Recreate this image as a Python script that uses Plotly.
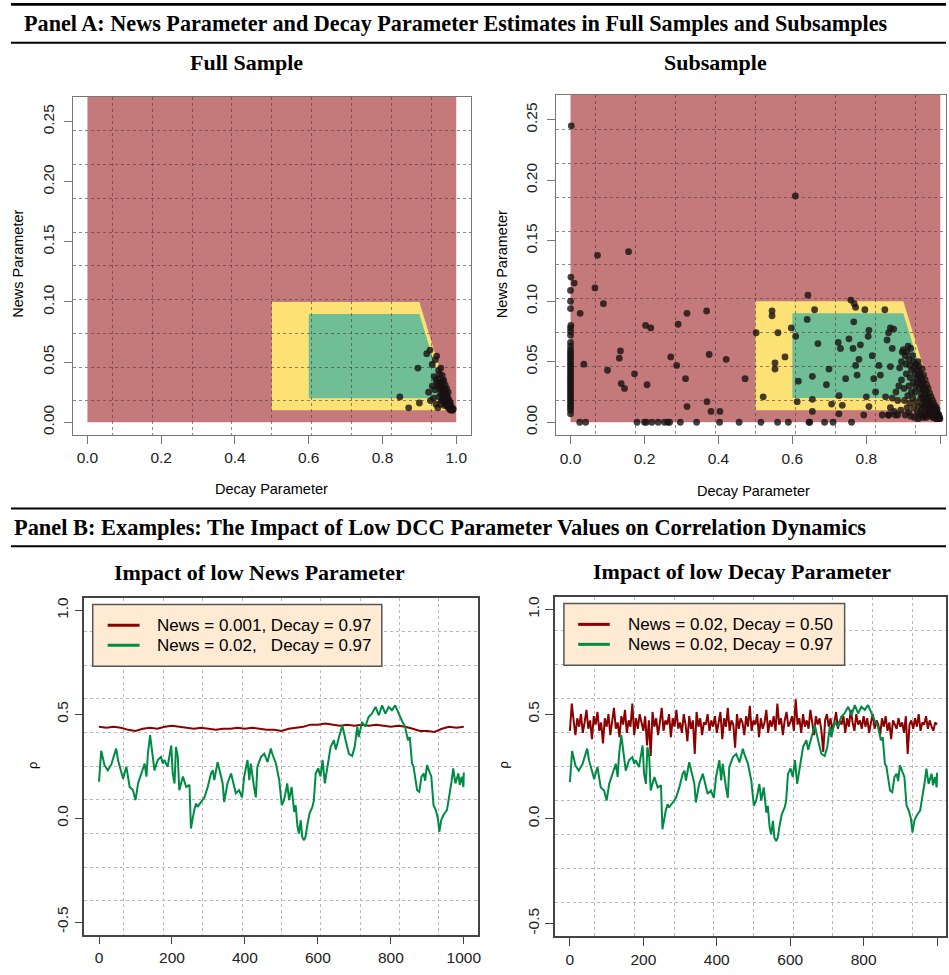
import plotly.graph_objects as go

W, H = 949, 975

# ---------------- Panel A data: (decay, news) estimates ----------------
full_decay = [0.847, 0.871, 0.900, 0.896, 0.925, 0.920, 0.929, 0.943, 0.952, 0.935,
              0.940, 0.945, 0.948, 0.950, 0.952, 0.955, 0.957, 0.958, 0.960, 0.961,
              0.962, 0.963, 0.964, 0.965, 0.966, 0.967, 0.968, 0.969, 0.970, 0.971,
              0.972, 0.973, 0.974, 0.975, 0.976, 0.977, 0.978, 0.979, 0.980, 0.981,
              0.982, 0.983, 0.984, 0.985, 0.986, 0.987, 0.988, 0.990, 0.992, 0.945,
              0.950, 0.938, 0.930, 0.955, 0.958, 0.947, 0.935, 0.960, 0.953, 0.962,
              0.966, 0.970, 0.974, 0.978, 0.968, 0.957, 0.942]
full_news = [0.021, 0.012, 0.016, 0.045, 0.025, 0.057, 0.060, 0.052, 0.043, 0.048,
             0.038, 0.035, 0.032, 0.030, 0.036, 0.028, 0.033, 0.025, 0.030, 0.022,
             0.027, 0.034, 0.020, 0.025, 0.029, 0.018, 0.023, 0.027, 0.016, 0.021,
             0.024, 0.015, 0.019, 0.022, 0.013, 0.017, 0.020, 0.012, 0.015, 0.018,
             0.011, 0.014, 0.016, 0.010, 0.013, 0.011, 0.012, 0.010, 0.011, 0.015,
             0.012, 0.020, 0.018, 0.040, 0.045, 0.055, 0.030, 0.018, 0.021, 0.039,
             0.035, 0.031, 0.028, 0.025, 0.014, 0.015, 0.027]

# subsample: estimates stuck at decay = 0
sub_edge_decay = [0.002, 0.001, 0.0, 0.0, 0.0, 0.001, 0.0, 0.0, 0.0, 0.0,
                  0.0, 0.0, 0.0, 0.0, 0.0, 0.0, 0.0, 0.0, 0.0, 0.0,
                  0.0, 0.0, 0.0, 0.0, 0.0, 0.0, 0.0, 0.0, 0.0, 0.0,
                  0.0, 0.0, 0.0, 0.0, 0.0, 0.0, 0.0, 0.0]
sub_edge_news = [0.245, 0.120, 0.109, 0.100, 0.094, 0.080, 0.078, 0.075, 0.072, 0.066,
                 0.063, 0.060, 0.058, 0.056, 0.054, 0.052, 0.050, 0.048, 0.046, 0.044,
                 0.042, 0.040, 0.038, 0.036, 0.034, 0.032, 0.030, 0.028, 0.026, 0.024,
                 0.022, 0.020, 0.018, 0.016, 0.014, 0.012, 0.010, 0.007]

# subsample: estimates stuck at news = 0
sub_floor_decay = [0.025, 0.041, 0.180, 0.200, 0.205, 0.220, 0.237, 0.254, 0.263, 0.268,
                   0.297, 0.341, 0.403, 0.456, 0.515, 0.560, 0.589, 0.645, 0.647, 0.687,
                   0.710, 0.760]
sub_floor_news = [0.0, 0.0, 0.0, 0.0, 0.0, 0.0, 0.0, 0.0, 0.0, 0.0,
                  0.0, 0.0, 0.0, 0.0, 0.0, 0.0, 0.0, 0.0, 0.0, 0.0,
                  0.0, 0.0]

# subsample: interior estimates
sub_mid_decay = [0.010, 0.026, 0.036, 0.066, 0.073, 0.089, 0.100, 0.132, 0.135, 0.137,
                 0.146, 0.157, 0.173, 0.203, 0.207, 0.217, 0.271, 0.287, 0.291, 0.311,
                 0.315, 0.315, 0.368, 0.369, 0.375, 0.380, 0.404, 0.421, 0.472, 0.502,
                 0.521, 0.545, 0.545, 0.553, 0.553, 0.561, 0.580, 0.597, 0.608, 0.609,
                 0.613, 0.616, 0.640, 0.642, 0.654, 0.654, 0.654, 0.660, 0.669, 0.692,
                 0.699, 0.706, 0.724, 0.726, 0.726, 0.730, 0.735, 0.744, 0.753, 0.758,
                 0.764, 0.766, 0.767, 0.771, 0.771, 0.775, 0.780, 0.784, 0.793, 0.796,
                 0.800, 0.805, 0.807, 0.807, 0.816, 0.820, 0.825, 0.834, 0.838, 0.843,
                 0.850, 0.852, 0.856, 0.860, 0.860, 0.865, 0.865, 0.870, 0.874, 0.878]
sub_mid_news = [0.115, 0.090, 0.048, 0.111, 0.138, 0.098, 0.043, 0.053, 0.059, 0.032,
                0.028, 0.141, 0.040, 0.080, 0.031, 0.078, 0.054, 0.047, 0.081, 0.036,
                0.090, 0.013, 0.092, 0.017, 0.056, 0.009, 0.009, 0.052, 0.036, 0.074,
                0.021, 0.092, 0.088, 0.049, 0.044, 0.074, 0.054, 0.078, 0.187, 0.071,
                0.017, 0.034, 0.085, 0.105, 0.038, 0.019, 0.009, 0.093, 0.065, 0.031,
                0.044, 0.015, 0.066, 0.022, 0.007, 0.061, 0.014, 0.036, 0.069, 0.101,
                0.061, 0.083, 0.098, 0.095, 0.047, 0.039, 0.052, 0.064, 0.006, 0.093,
                0.021, 0.071, 0.076, 0.013, 0.055, 0.036, 0.025, 0.047, 0.039, 0.006,
                0.093, 0.021, 0.068, 0.074, 0.006, 0.078, 0.046, 0.061, 0.077, 0.006]

# subsample: dense cluster near decay = 1
sub_cluster_decay = [0.900, 0.905, 0.910, 0.915, 0.920, 0.918, 0.925, 0.922, 0.928, 0.930,
                     0.932, 0.935, 0.936, 0.938, 0.940, 0.941, 0.943, 0.944, 0.945, 0.946,
                     0.948, 0.949, 0.950, 0.951, 0.952, 0.953, 0.954, 0.955, 0.956, 0.957,
                     0.958, 0.959, 0.960, 0.961, 0.962, 0.963, 0.964, 0.965, 0.966, 0.967,
                     0.968, 0.969, 0.970, 0.971, 0.972, 0.973, 0.974, 0.975, 0.976, 0.977,
                     0.978, 0.979, 0.980, 0.981, 0.982, 0.983, 0.984, 0.985, 0.986, 0.987,
                     0.988, 0.989, 0.990, 0.991, 0.992, 0.993, 0.994, 0.995, 0.996, 0.997,
                     0.998, 0.999, 0.895, 0.902, 0.908, 0.912, 0.915, 0.903, 0.910, 0.918,
                     0.925, 0.928, 0.932, 0.935, 0.938, 0.942, 0.945, 0.948, 0.950, 0.952,
                     0.955, 0.958, 0.962, 0.880, 0.885, 0.890, 0.895, 0.888, 0.870, 0.865,
                     0.875, 0.885, 0.860, 0.893, 0.905, 0.915, 0.920, 0.930, 0.940, 0.927,
                     0.918, 0.907, 0.913, 0.897, 0.922, 0.933, 0.947, 0.957, 0.966, 0.940]
sub_cluster_news = [0.060, 0.055, 0.058, 0.052, 0.061, 0.047, 0.055, 0.043, 0.050, 0.045,
                    0.040, 0.048, 0.036, 0.043, 0.032, 0.039, 0.046, 0.028, 0.035, 0.041,
                    0.024, 0.031, 0.037, 0.044, 0.020, 0.027, 0.033, 0.039, 0.017, 0.023,
                    0.029, 0.035, 0.014, 0.020, 0.026, 0.031, 0.011, 0.017, 0.022, 0.028,
                    0.008, 0.014, 0.019, 0.024, 0.006, 0.011, 0.016, 0.021, 0.005, 0.009,
                    0.013, 0.018, 0.004, 0.008, 0.011, 0.015, 0.004, 0.007, 0.010, 0.013,
                    0.003, 0.006, 0.009, 0.011, 0.003, 0.005, 0.007, 0.004, 0.006, 0.003,
                    0.004, 0.003, 0.035, 0.028, 0.040, 0.022, 0.030, 0.018, 0.012, 0.016,
                    0.020, 0.012, 0.025, 0.017, 0.008, 0.013, 0.006, 0.010, 0.015, 0.004,
                    0.008, 0.005, 0.004, 0.025, 0.018, 0.045, 0.050, 0.030, 0.020, 0.012,
                    0.009, 0.006, 0.006, 0.010, 0.006, 0.008, 0.005, 0.004, 0.003, 0.033,
                    0.037, 0.048, 0.063, 0.058, 0.025, 0.030, 0.020, 0.012, 0.007, 0.050]

# parameter regions (decay, news)
outer_region_decay = [0.0, 1.0]
yellow_region_decay = [0.5, 0.5, 0.9, 0.99]
yellow_region_news = [0.01, 0.10, 0.10, 0.01]
green_region_decay = [0.6, 0.6, 0.9, 0.97]
green_region_news = [0.02, 0.09, 0.09, 0.02]

# ---------------- Panel B data: simulated correlation paths ----------------
# News = 0.02, Decay = 0.97
green_t = [0, 6, 15, 24, 34, 43, 47, 52, 61, 66,
           75, 84, 93, 100, 107, 116, 125, 130, 134, 140,
           148, 152, 161, 170, 175, 179, 188, 198, 202, 207,
           211, 216, 220, 230, 239, 248, 252, 257, 261, 266,
           270, 280, 289, 298, 307, 312, 316, 325, 332, 339,
           343, 352, 362, 366, 375, 384, 392, 398, 407, 412,
           416, 425, 430, 434, 444, 453, 462, 471, 475, 485,
           494, 501, 507, 511, 516, 521, 528, 535, 539, 544,
           548, 553, 557, 562, 566, 571, 577, 585, 589, 594,
           601, 607, 613, 619, 626, 630, 635, 644, 649, 658,
           667, 676, 685, 694, 701, 708, 712, 721, 730, 739,
           748, 758, 767, 776, 785, 794, 803, 812, 821, 830,
           839, 847, 852, 858, 862, 867, 872, 878, 884, 890,
           894, 899, 904, 911, 917, 923, 929, 933, 938, 944,
           954, 960, 967, 971, 977, 985, 989, 994, 999, 1000]
green_rho = [0.175, 0.324, 0.255, 0.23, 0.26, 0.31, 0.335, 0.28, 0.215, 0.19,
             0.247, 0.15, 0.135, 0.087, 0.167, 0.215, 0.263, 0.2, 0.31, 0.40,
             0.295, 0.23, 0.28, 0.295, 0.263, 0.28, 0.247, 0.35, 0.215, 0.167,
             0.343, 0.295, 0.135, 0.2, 0.15, 0.16, -0.05, 0.006, 0.04, 0.07,
             0.054, 0.078, 0.1, 0.15, 0.215, 0.23, 0.183, 0.27, 0.215, 0.167,
             0.078, 0.167, 0.215, 0.183, 0.12, 0.135, 0.1, 0.2, 0.28, 0.183,
             0.263, 0.15, 0.1, 0.247, 0.295, 0.31, 0.27, 0.335, 0.31, 0.263,
             0.183, 0.0625, 0.087, 0.12, 0.167, 0.087, 0.15, 0.03, 0.062, -0.04,
             -0.074, -0.01, -0.09, -0.106, -0.09, -0.034, 0.022, 0.054, 0.087, 0.215,
             0.24, 0.2, 0.28, 0.167, 0.247, 0.295, 0.343, 0.375, 0.33, 0.39,
             0.447, 0.375, 0.31, 0.3, 0.343, 0.44, 0.39, 0.463, 0.44, 0.487,
             0.503, 0.535, 0.495, 0.543, 0.503, 0.535, 0.52, 0.543, 0.503, 0.47,
             0.44, 0.375, 0.39, 0.263, 0.25, 0.183, 0.135, 0.127, 0.2, 0.215,
             0.18, 0.255, 0.23, 0.2, 0.0625, 0.04, 0.0, -0.066, -0.01, 0.014,
             0.04, 0.1, 0.183, 0.24, 0.167, 0.215, 0.16, 0.2, 0.15, 0.22]

# News = 0.001, Decay = 0.97
lownews_t = [0, 20, 40, 60, 80, 100, 120, 140, 160, 180,
             200, 220, 240, 260, 280, 300, 320, 340, 360, 380,
             400, 420, 440, 460, 480, 500, 520, 540, 560, 580,
             600, 620, 640, 660, 680, 700, 720, 740, 760, 780,
             800, 820, 840, 860, 880, 900, 920, 940, 960, 980, 1000]
lownews_rho = [0.44, 0.435, 0.44, 0.435, 0.425, 0.42, 0.43, 0.435, 0.43, 0.44,
               0.445, 0.44, 0.435, 0.43, 0.435, 0.43, 0.425, 0.43, 0.43, 0.435,
               0.43, 0.435, 0.43, 0.425, 0.425, 0.42, 0.43, 0.435, 0.44, 0.45,
               0.45, 0.455, 0.45, 0.445, 0.45, 0.445, 0.45, 0.445, 0.45, 0.445,
               0.44, 0.445, 0.44, 0.43, 0.42, 0.42, 0.415, 0.43, 0.44, 0.435, 0.44]

# News = 0.02, Decay = 0.50 (every 5th step)
lowdecay_t = list(range(0, 1001, 5))
lowdecay_rho = [0.42, 0.55, 0.47, 0.40, 0.48, 0.44, 0.50, 0.41, 0.46, 0.52,
                0.43, 0.47, 0.38, 0.49, 0.45, 0.51, 0.42, 0.46, 0.36, 0.48,
                0.44, 0.50, 0.40, 0.47, 0.53, 0.43, 0.46, 0.39, 0.49, 0.45,
                0.52, 0.41, 0.47, 0.44, 0.55, 0.40, 0.48, 0.43, 0.50, 0.46,
                0.42, 0.49, 0.35, 0.47, 0.30, 0.51, 0.44, 0.48, 0.40, 0.46,
                0.53, 0.42, 0.47, 0.45, 0.50, 0.39, 0.48, 0.44, 0.52, 0.43,
                0.46, 0.41, 0.50, 0.45, 0.37, 0.49, 0.43, 0.47, 0.31, 0.51,
                0.44, 0.48, 0.40, 0.46, 0.45, 0.50, 0.42, 0.47, 0.44, 0.49,
                0.41, 0.46, 0.51, 0.38, 0.48, 0.44, 0.53, 0.42, 0.47, 0.45,
                0.34, 0.50, 0.43, 0.48, 0.46, 0.40, 0.49, 0.44, 0.54, 0.42,
                0.47, 0.45, 0.50, 0.39, 0.48, 0.43, 0.46, 0.52, 0.41, 0.47,
                0.44, 0.49, 0.42, 0.55, 0.45, 0.48, 0.40, 0.47, 0.51, 0.44,
                0.46, 0.49, 0.42, 0.57, 0.45, 0.48, 0.41, 0.50, 0.44, 0.47,
                0.43, 0.52, 0.46, 0.40, 0.49, 0.45, 0.48, 0.42, 0.32, 0.47,
                0.50, 0.44, 0.48, 0.42, 0.46, 0.51, 0.43, 0.47, 0.45, 0.49,
                0.41, 0.48, 0.44, 0.52, 0.46, 0.42, 0.50, 0.45, 0.47, 0.43,
                0.49, 0.44, 0.48, 0.41, 0.46, 0.50, 0.43, 0.47, 0.45, 0.40,
                0.48, 0.44, 0.49, 0.42, 0.46, 0.38, 0.47, 0.45, 0.43, 0.48,
                0.44, 0.46, 0.41, 0.49, 0.31, 0.45, 0.47, 0.43, 0.48, 0.44,
                0.50, 0.42, 0.46, 0.45, 0.49, 0.43, 0.47, 0.44, 0.42, 0.46,
                0.45]

# tick labels
a_xticks = [0.0, 0.2, 0.4, 0.6, 0.8, 1.0]
a_xtext = ["0.0", "0.2", "0.4", "0.6", "0.8", "1.0"]
a_yticks = [0.0, 0.05, 0.10, 0.15, 0.20, 0.25]
a_ytext = ["0.00", "0.05", "0.10", "0.15", "0.20", "0.25"]
b_xticks = [0, 200, 400, 600, 800, 1000]
b_xtext = ["0", "200", "400", "600", "800", "1000"]
b_yticks = [-0.5, 0.0, 0.5, 1.0]
b_ytext = ["-0.5", "0.0", "0.5", "1.0"]

# ---------------- styling ----------------
SANS = "Liberation Sans, Arial, sans-serif"
SERIF = "Liberation Serif, Times New Roman, serif"
RED_ZONE = "rgb(196,122,122)"
YELLOW_ZONE = "rgb(252,226,116)"
GREEN_ZONE = "rgb(112,190,150)"
DARKRED = "#8B0000"
DARKGREEN = "#008B45"
DOT = "rgba(25,18,18,0.8)"


def px(x):
    return x / W


def py(y):
    return 1 - y / H


def r_grid(lo, hi, n=10):
    step = (hi - lo) / n
    return [lo + step * k for k in range(1, n)]


def make_axes(xdom, ydom, xr, yr, xt, xtt, yt, ytt, gx, gy, gcol, lcol, lw,
              xstand, ystand):
    common = dict(showgrid=False, zeroline=False, showline=True, mirror=True,
                  linecolor=lcol, linewidth=lw, ticks="outside", ticklen=8,
                  tickcolor=lcol, tickwidth=1.2, tickmode="array",
                  tickfont=dict(family=SANS, size=15.5, color="#222"))
    xa = dict(common, domain=[px(xdom[0]), px(xdom[1])], range=xr,
              tickvals=xt, ticktext=xtt, ticklabelstandoff=xstand,
              minor=dict(tickvals=gx, showgrid=True, griddash="dot",
                         gridcolor=gcol, gridwidth=1, ticks=""))
    ya = dict(common, domain=[py(ydom[1]), py(ydom[0])], range=yr,
              tickvals=yt, ticktext=ytt, tickangle=-90, ticklabelstandoff=ystand,
              minor=dict(tickvals=gy, showgrid=True, griddash="dot",
                         gridcolor=gcol, gridwidth=1, ticks=""))
    return xa, ya


fig = go.Figure()

a_xr = [-0.04, 1.04]
a_yr = [-0.0104, 0.2704]
b_xr = [-40, 1040]
b_yr = [-0.56, 1.06]
a_gx, a_gy = r_grid(*a_xr), r_grid(*a_yr)
b_gx, b_gy = r_grid(*b_xr), r_grid(*b_yr)
a_gcol = "rgba(80,55,55,0.6)"
b_gcol = "rgb(185,185,185)"

x1, y1 = make_axes((72.9, 472.5), (96.1, 434.2), a_xr, a_yr, a_xticks, a_xtext,
                   a_yticks, a_ytext, a_gx, a_gy, a_gcol, "#777", 1.2, 1, 3)
x2, y2 = make_axes((557.5, 949), (94.2, 434.3), [-0.04, 1.0154], a_yr, a_xticks, a_xtext,
                   a_yticks, a_ytext, a_gx, a_gy, a_gcol, "#777", 1.2, 1, 3)
x3, y3 = make_axes((84.7, 479.9), (597.5, 934.5), b_xr, b_yr, b_xticks, b_xtext,
                   b_yticks, b_ytext, b_gx, b_gy, b_gcol, "#444", 1.6, 0, 0)
x4, y4 = make_axes((557.0, 949), (596.4, 936.1), [-40, 1024.4], b_yr, b_xticks, b_xtext,
                   b_yticks, b_ytext, b_gx, b_gy, b_gcol, "#444", 1.6, 0, 0)

# ---- Panel A scatter ----
mk = dict(size=6.8, color=DOT, line=dict(width=0))
fig.add_trace(go.Scatter(x=full_decay, y=full_news, mode="markers", marker=mk,
                         xaxis="x", yaxis="y", showlegend=False))
for dx, dy in [(sub_edge_decay, sub_edge_news), (sub_floor_decay, sub_floor_news),
               (sub_mid_decay, sub_mid_news), (sub_cluster_decay, sub_cluster_news)]:
    fig.add_trace(go.Scatter(x=dx, y=dy, mode="markers", marker=mk,
                             xaxis="x2", yaxis="y2", showlegend=False))

# ---- Panel B lines ----
fig.add_trace(go.Scatter(x=lownews_t, y=lownews_rho, mode="lines",
                         line=dict(color=DARKRED, width=2), xaxis="x3", yaxis="y3",
                         showlegend=False))
fig.add_trace(go.Scatter(x=green_t, y=green_rho, mode="lines",
                         line=dict(color=DARKGREEN, width=2), xaxis="x3", yaxis="y3",
                         showlegend=False))
fig.add_trace(go.Scatter(x=lowdecay_t, y=lowdecay_rho, mode="lines",
                         line=dict(color=DARKRED, width=2), xaxis="x4", yaxis="y4",
                         showlegend=False))
fig.add_trace(go.Scatter(x=green_t, y=green_rho, mode="lines",
                         line=dict(color=DARKGREEN, width=2), xaxis="x4", yaxis="y4",
                         showlegend=False))


def poly_path(xs, ys):
    pts = " L ".join(f"{a},{b}" for a, b in zip(xs, ys))
    return f"M {pts} Z"


shapes = []
for xr_, yr_ in [("x", "y"), ("x2", "y2")]:
    shapes.append(dict(type="rect", xref=xr_, yref=yr_, layer="below",
                       x0=outer_region_decay[0], x1=outer_region_decay[1],
                       y0=0, y1=a_yr[1], fillcolor=RED_ZONE, line=dict(width=0)))
    shapes.append(dict(type="path", xref=xr_, yref=yr_, layer="below",
                       path=poly_path(yellow_region_decay, yellow_region_news),
                       fillcolor=YELLOW_ZONE, line=dict(width=0)))
    shapes.append(dict(type="path", xref=xr_, yref=yr_, layer="below",
                       path=poly_path(green_region_decay, green_region_news),
                       fillcolor=GREEN_ZONE, line=dict(width=0)))

# header rules
for yy, lw in [(3.3, 2.8), (41.7, 2.0), (508, 2.0), (545.7, 2.0)]:
    shapes.append(dict(type="line", xref="paper", yref="paper",
                       x0=px(11), x1=1.0, y0=py(yy), y1=py(yy),
                       line=dict(color="black", width=lw)))

# legend boxes for panel B
legends = [
    dict(box=(93, 604, 383, 666), line_x=(108, 140), text_x=155,
         labels=["News = 0.001, Decay = 0.97",
                 "News = 0.02,\u00a0\u00a0\u00a0Decay = 0.97"]),
    dict(box=(565.7, 603, 847.3, 665), line_x=(580, 611.7), text_x=627.7,
         labels=["News = 0.02, Decay = 0.50", "News = 0.02, Decay = 0.97"]),
]
annotations = []
for lg in legends:
    bx0, by0, bx1, by1 = lg["box"]
    shapes.append(dict(type="rect", xref="paper", yref="paper",
                       x0=px(bx0), x1=px(bx1), y0=py(by1), y1=py(by0),
                       fillcolor="rgb(255,235,212)", line=dict(color="#555", width=1.5)))
    for i, (col, lab) in enumerate(zip([DARKRED, DARKGREEN], lg["labels"])):
        yy = by0 + 21 + 20 * i
        shapes.append(dict(type="line", xref="paper", yref="paper",
                           x0=px(lg["line_x"][0]), x1=px(lg["line_x"][1]),
                           y0=py(yy), y1=py(yy), line=dict(color=col, width=3)))
        annotations.append(dict(xref="paper", yref="paper", x=px(lg["text_x"]), y=py(yy),
                                text=lab, showarrow=False, xanchor="left", yanchor="middle",
                                font=dict(family=SANS, size=17, color="black")))


def label(x, y, text, size, family=SANS, bold=False, angle=0, anchor="center"):
    annotations.append(dict(xref="paper", yref="paper", x=px(x), y=py(y), text=text,
                            showarrow=False, xanchor=anchor, yanchor="middle",
                            textangle=angle,
                            font=dict(family=family, size=size, color="black",
                                      weight="bold" if bold else "normal")))


label(22, 22.5, "Panel A: News Parameter and Decay Parameter Estimates in Full Samples and Subsamples",
      22.2, SERIF, True, anchor="left")
label(12, 527, "Panel B: Examples: The Impact of Low DCC Parameter Values on Correlation Dynamics",
      22.4, SERIF, True, anchor="left")
label(247, 62, "Full Sample", 22, SERIF, True)
label(718, 62, "Subsample", 22, SERIF, True)
label(260, 571.7, "Impact of low News Parameter", 22, SERIF, True)
label(744, 571, "Impact of low Decay Parameter", 22, SERIF, True)
label(272, 489, "Decay Parameter", 14.5)
label(756, 491, "Decay Parameter", 14.5)
label(18, 263, "News Parameter", 14.5, angle=-90)
label(503, 263, "News Parameter", 14.5, angle=-90)
label(32, 765, "\u03c1", 13, angle=-90)
label(505, 765, "\u03c1", 13, angle=-90)

fig.update_layout(
    width=W, height=H, margin=dict(l=0, r=0, t=0, b=0),
    paper_bgcolor="white", plot_bgcolor="white",
    xaxis=dict(x1, anchor="y"), yaxis=dict(y1, anchor="x"), xaxis2=dict(x2, anchor="y2"),
    yaxis2=dict(y2, anchor="x2"), xaxis3=dict(x3, anchor="y3"), yaxis3=dict(y3, anchor="x3"),
    xaxis4=dict(x4, anchor="y4"), yaxis4=dict(y4, anchor="x4"),
    shapes=shapes, annotations=annotations, showlegend=False,
)

fig.write_html("out.html")
